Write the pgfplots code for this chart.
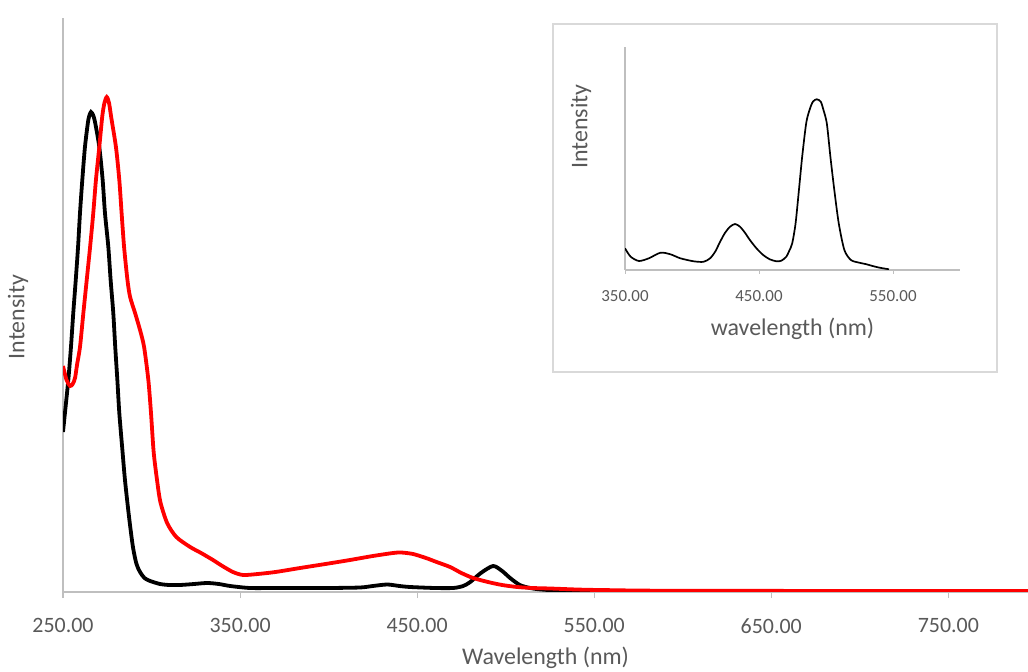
\documentclass[border=0pt]{standalone}
\usepackage{pgfplots}
\pgfplotsset{compat=1.18}
\usepackage{fontspec}
\setmainfont{Carlito}
\definecolor{axisgray}{HTML}{BFBFBF}
\definecolor{labelgray}{HTML}{595959}
\definecolor{boxgray}{HTML}{D9D9D9}
\definecolor{myred}{HTML}{FF0000}
\begin{document}
\begin{tikzpicture}
\useasboundingbox (0,0) rectangle (1028bp,672bp);
\begin{axis}[
  at={(63bp,80bp)}, anchor=south west,
  scale only axis, width=965bp, height=574bp,
  xmin=250, xmax=795, ymin=0, ymax=574,
  axis lines=left,
  axis line style={-, draw=axisgray, line width=1.3bp},
  xtick={250,350,450,550,650,750}, ytick=\empty,
  tick align=outside, major tick length=6bp,
  tick style={draw=axisgray, line width=1.1bp},
  /pgf/number format/fixed, /pgf/number format/fixed zerofill,
  /pgf/number format/precision=2, /pgf/number format/assume math mode=true,
  xticklabel style={font=\fontsize{22}{26}\selectfont, text=labelgray, yshift=-17bp},
  xlabel={Wavelength (nm)},
  xlabel style={font=\fontsize{24}{28}\selectfont, text=labelgray, at={(axis description cs:0.5,0)}, anchor=center, yshift=-66bp},
  ylabel={Intensity},
  ylabel style={font=\fontsize{24}{28}\selectfont, text=labelgray, at={(axis description cs:0,0.479)}, anchor=center, yshift=45bp},
  clip=true,
]
\addplot[black, line width=3.8bp, smooth, tension=0.45] coordinates {
(250,160) (251.1,179) (253,212) (254.5,245) (255.8,279) (257.2,312) (258.5,345) (259.6,379)
(260.9,412) (262.4,445) (264.3,472) (265.8,480) (267.2,476) (268.3,468) (270.5,445) (272.4,412)
(273.7,379) (275.6,345) (276.9,312) (278.4,279) (279.5,245) (280.7,212) (281.8,179) (283.4,145)
(285,112) (287.3,75) (289.5,45) (291.5,28) (293.5,20) (296,14) (299.2,11) (304.8,8) (310,7)
(316.1,7) (324,8) (331.4,9) (338,8) (344.4,6) (355.6,4) (370,4) (383.9,4) (400,4) (417.8,4.5)
(425,6) (433.1,7.5) (440,6) (446.0,5) (460,4) (470.3,4) (476,6) (480,10) (486,19) (492.9,26)
(498,21) (502.5,14) (508,7) (513.8,4) (520,2.5) (530.8,1.5) (560,1) (600,0.8) (795,0.8)
};
\addplot[myred, line width=3.8bp, smooth, tension=0.45] coordinates {
(250,226) (252,212) (254,206) (255.5,208) (256.8,214) (258,228) (259.6,245) (261.5,279)
(263.4,312) (265.3,345) (267.1,379) (268.6,412) (270.5,445) (272.2,476) (273.4,489) (274.7,495)
(276.0,489) (277.3,474) (279.9,445) (281.8,412) (283.1,379) (284.5,345) (286.4,312)
(287.9,295) (290.7,279) (293.5,262) (295.8,245) (298.2,212) (299.7,179) (301.2,140) (303.1,112)
(305,90) (308.8,69) (314,55) (321.8,45) (328,39) (334.7,32) (340,26) (346.0,20) (351.7,17)
(360,18) (370,20) (383.9,24) (400,28.5) (412.1,32) (425,36) (436.4,39) (441,39.5) (447.7,38)
(455,34) (461,30) (468.6,25) (475,19) (481.6,14) (490,10) (498,7) (506.5,5) (515,4) (525.1,3.5)
(540,2.5) (553.4,2) (600,1.2) (795,1)
};
\end{axis}
\fill[white] (553bp,300bp) rectangle (997bp,648bp);
\draw[boxgray, line width=1.5bp] (553bp,300bp) rectangle (997bp,648bp);
\begin{axis}[
  at={(625bp,402bp)}, anchor=south west,
  scale only axis, width=335bp, height=222.7bp,
  xmin=350, xmax=600, ymin=0, ymax=222.7,
  axis lines=left,
  axis line style={-, draw=axisgray, line width=1.3bp},
  xtick={350,450,550}, ytick=\empty,
  tick align=outside, major tick length=4bp,
  tick style={draw=axisgray, line width=1bp},
  /pgf/number format/fixed, /pgf/number format/fixed zerofill,
  /pgf/number format/precision=2, /pgf/number format/assume math mode=true,
  xticklabel style={font=\fontsize{17}{20}\selectfont, text=labelgray, yshift=-13bp},
  xlabel={wavelength (nm)},
  xlabel style={font=\fontsize{24}{28}\selectfont, text=labelgray, at={(axis description cs:0.5,0)}, anchor=center, yshift=-59bp},
  ylabel={Intensity},
  ylabel style={font=\fontsize{24}{28}\selectfont, text=labelgray, at={(axis description cs:0,0.644)}, anchor=center, yshift=44bp},
]
\addplot[black, line width=1.7bp, smooth, tension=0.45] coordinates {
(350,21.7) (354.2,13.3) (360.4,9) (367.8,11.7) (376.5,17.3) (383.9,15.7) (391.3,11.7) (401.2,8.7)
(408.6,8.2) (413.5,11.7) (417.3,18.3) (421,28.3) (424.7,37.3) (428.4,43.3) (432.1,46) (435.8,43.3)
(439.5,37.3) (443.2,30) (448.1,21.7) (453.1,15) (458,10.7) (463,8.7) (466.7,9.3) (470.4,13.3)
(472.5,19) (474.8,26.7) (477.3,46.7) (479.8,80) (482.2,113) (485.2,146.7) (487.7,160) (490.2,168.3)
(493.1,170.7) (496.1,168.3) (498.1,160) (500.6,146.7) (503.3,113) (506.2,80) (509.5,46.7)
(513.7,20) (518.6,10) (524.8,7.3) (530,5.8) (534.7,4) (540,2.3) (547,0.7)
};
\end{axis}
\end{tikzpicture}
\end{document}
